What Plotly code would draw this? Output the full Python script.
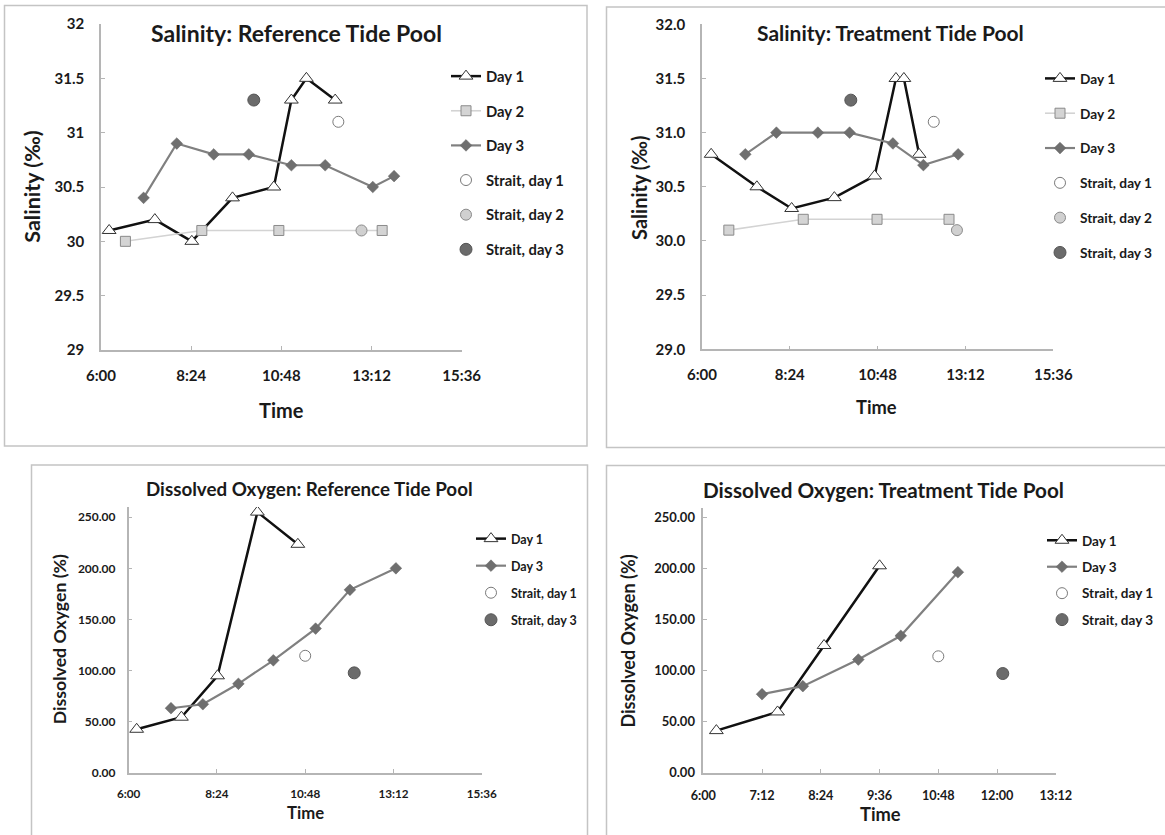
import plotly.graph_objects as go

W, H = 1165, 835

# ---------------- data ----------------
# Salinity, reference tide pool (time of day, salinity in per mille)
sal_ref_day1_t = ["6:13", "7:26", "8:25", "9:30", "10:36", "11:04", "11:28", "12:14"]
sal_ref_day1_v = [30.1, 30.2, 30.0, 30.4, 30.5, 31.3, 31.5, 31.3]
sal_ref_day2_t = ["6:39", "8:41", "10:44", "13:29"]
sal_ref_day2_v = [30.0, 30.1, 30.1, 30.1]
sal_ref_day3_t = ["7:08", "8:01", "9:00", "9:56", "11:04", "11:58", "13:14", "13:48"]
sal_ref_day3_v = [30.4, 30.9, 30.8, 30.8, 30.7, 30.7, 30.5, 30.6]
sal_ref_strait1 = ("12:19", 31.1)
sal_ref_strait2 = ("12:56", 30.1)
sal_ref_strait3 = ("10:04", 31.3)

# Salinity, treatment tide pool
sal_trt_day1_t = ["6:15", "7:30", "8:27", "9:37", "10:43", "11:18", "11:31", "11:56"]
sal_trt_day1_v = [30.8, 30.5, 30.3, 30.4, 30.6, 31.5, 31.5, 30.8]
sal_trt_day2_t = ["6:44", "8:46", "10:47", "12:45"]
sal_trt_day2_v = [30.1, 30.2, 30.2, 30.2]
sal_trt_day3_t = ["7:11", "8:02", "9:10", "10:02", "11:13", "12:03", "13:00"]
sal_trt_day3_v = [30.8, 31.0, 31.0, 31.0, 30.9, 30.7, 30.8]
sal_trt_strait1 = ("12:20", 31.1)
sal_trt_strait2 = ("12:58", 30.1)
sal_trt_strait3 = ("10:04", 31.3)

# Dissolved oxygen, reference tide pool (% saturation)
do_ref_day1_t = ["6:13", "7:26", "8:25", "9:30", "10:36"]
do_ref_day1_v = [42.5, 54.3, 94.8, 255.0, 223.5]
do_ref_day3_t = ["7:09", "8:01", "8:59", "9:56", "11:05", "12:01", "13:16"]
do_ref_day3_v = [63.1, 67.0, 87.0, 110.0, 141.0, 179.0, 200.0]
do_ref_strait1 = ("10:48", 114.4)
do_ref_strait3 = ("12:08", 97.7)

# Dissolved oxygen, treatment tide pool
do_trt_day1_t = ["6:16", "7:31", "8:28", "9:36"]
do_trt_day1_v = [41.3, 59.6, 124.8, 203.0]
do_trt_day3_t = ["7:12", "8:02", "9:10", "10:02", "11:12"]
do_trt_day3_v = [77.0, 84.9, 111.0, 134.3, 196.7]
do_trt_strait1 = ("10:48", 114.2)
do_trt_strait3 = ("12:07", 97.3)

# axis ticks
time_ticks_wide = ["6:00", "8:24", "10:48", "13:12", "15:36"]
time_ticks_narrow = ["6:00", "7:12", "8:24", "9:36", "10:48", "12:00", "13:12"]
sal_ref_yticks = ["29", "29.5", "30", "30.5", "31", "31.5", "32"]
sal_trt_yticks = ["29.0", "29.5", "30.0", "30.5", "31.0", "31.5", "32.0"]
do_yticks = ["0.00", "50.00", "100.00", "150.00", "200.00", "250.00"]


def hours(s):
    h, m = s.split(":")
    return int(h) + int(m) / 60.0


def hrs(lst):
    return [hours(s) for s in lst]


def px(x):
    return x / W


def py(y):
    return 1 - y / H


FONT = "Lato"
INK = "#1a1a1a"
AX = "#b5b5b5"

# series styles
ST_DAY1 = dict(mode="lines+markers", line=dict(color="#111111", width=2.5),
               marker=dict(symbol="triangle-up", size=12, color="white",
                           line=dict(color="#333333", width=1)))
ST_DAY2 = dict(mode="lines+markers", line=dict(color="#d3d3d3", width=1.6),
               marker=dict(symbol="square", size=10, color="#d4d4d4",
                           line=dict(color="#8a8a8a", width=1)))
ST_DAY3 = dict(mode="lines+markers", line=dict(color="#808080", width=2.2),
               marker=dict(symbol="diamond", size=9, color="#6f6f6f",
                           line=dict(color="#666666", width=0.5)))
ST_S1 = dict(mode="markers", marker=dict(symbol="circle", size=11, color="white",
                                        line=dict(color="#7a7a7a", width=1)))
ST_S2 = dict(mode="markers", marker=dict(symbol="circle", size=11, color="#d0d0d0",
                                        line=dict(color="#8a8a8a", width=1)))
ST_S3 = dict(mode="markers", marker=dict(symbol="circle", size=12, color="#6b6b6b",
                                        line=dict(color="#555555", width=1)))

fig = go.Figure()


def add(panel, name, t, v, style):
    ax = "" if panel == 1 else str(panel)
    leg = "legend" if panel == 1 else "legend" + str(panel)
    fig.add_trace(go.Scatter(x=hrs(t), y=v, name=name, xaxis="x" + ax, yaxis="y" + ax,
                             legend=leg, legendgroup=f"p{panel}-{name}",
                             hoverinfo="skip", **style))


# panel 1
add(1, "Day 1", sal_ref_day1_t, sal_ref_day1_v, ST_DAY1)
add(1, "Day 2", sal_ref_day2_t, sal_ref_day2_v, ST_DAY2)
add(1, "Day 3", sal_ref_day3_t, sal_ref_day3_v, ST_DAY3)
add(1, "Strait, day 1", [sal_ref_strait1[0]], [sal_ref_strait1[1]], ST_S1)
add(1, "Strait, day 2", [sal_ref_strait2[0]], [sal_ref_strait2[1]], ST_S2)
add(1, "Strait, day 3", [sal_ref_strait3[0]], [sal_ref_strait3[1]], ST_S3)
# panel 2
add(2, "Day 1", sal_trt_day1_t, sal_trt_day1_v, ST_DAY1)
add(2, "Day 2", sal_trt_day2_t, sal_trt_day2_v, ST_DAY2)
add(2, "Day 3", sal_trt_day3_t, sal_trt_day3_v, ST_DAY3)
add(2, "Strait, day 1", [sal_trt_strait1[0]], [sal_trt_strait1[1]], ST_S1)
add(2, "Strait, day 2", [sal_trt_strait2[0]], [sal_trt_strait2[1]], ST_S2)
add(2, "Strait, day 3", [sal_trt_strait3[0]], [sal_trt_strait3[1]], ST_S3)
# panel 3
add(3, "Day 1", do_ref_day1_t, do_ref_day1_v, ST_DAY1)
add(3, "Day 3", do_ref_day3_t, do_ref_day3_v, ST_DAY3)
add(3, "Strait, day 1", [do_ref_strait1[0]], [do_ref_strait1[1]], ST_S1)
add(3, "Strait, day 3", [do_ref_strait3[0]], [do_ref_strait3[1]], ST_S3)
# panel 4
add(4, "Day 1", do_trt_day1_t, do_trt_day1_v, ST_DAY1)
add(4, "Day 3", do_trt_day3_t, do_trt_day3_v, ST_DAY3)
add(4, "Strait, day 1", [do_trt_strait1[0]], [do_trt_strait1[1]], ST_S1)
add(4, "Strait, day 3", [do_trt_strait3[0]], [do_trt_strait3[1]], ST_S3)


def xaxis(x0, x1, anchor, ticks, fs, standoff):
    return dict(domain=[px(x0), px(x1)], range=[hours(ticks[0]), hours(ticks[-1])],
                tickvals=hrs(ticks), ticktext=ticks, showline=True, linecolor=AX,
                linewidth=1.5, ticks="inside", ticklen=4, tickcolor=AX, tickwidth=1,
                showgrid=False, zeroline=False, ticklabelstandoff=standoff,
                automargin=False, anchor=anchor, fixedrange=True,
                tickfont=dict(family=FONT, size=fs, color=INK, weight="bold"))


def yaxis(y0, y1, anchor, rng, vals, text, fs, standoff):
    return dict(domain=[py(y1), py(y0)], range=rng, tickvals=vals, ticktext=text,
                showline=True, linecolor=AX, linewidth=1.5, ticks="inside", ticklen=4,
                tickcolor=AX, tickwidth=1, showgrid=False, zeroline=False,
                ticklabelstandoff=standoff, automargin=False, anchor=anchor,
                fixedrange=True,
                tickfont=dict(family=FONT, size=fs, color=INK, weight="bold"))


sal_vals = [float(s) for s in sal_ref_yticks]
do_vals = [float(s) for s in do_yticks]

fig.update_layout(
    width=W, height=H, margin=dict(l=0, r=0, t=0, b=0, autoexpand=False),
    paper_bgcolor="white", plot_bgcolor="white", showlegend=True,
    font=dict(family=FONT, color=INK),
    xaxis=xaxis(101, 461.7, "y", time_ticks_wide, 15, 11),
    yaxis=yaxis(24, 350, "x", [29, 32], sal_vals, sal_ref_yticks, 15, 12),
    xaxis2=xaxis(702, 1053.3, "y2", time_ticks_wide, 15, 11),
    yaxis2=yaxis(24.3, 349.3, "x2", [29, 32], sal_vals, sal_trt_yticks, 15, 12),
    xaxis3=xaxis(128.7, 481.7, "y3", time_ticks_wide, 11.7, 10),
    yaxis3=yaxis(507, 772.7, "x3", [0, 260], do_vals, do_yticks, 12, 9),
    xaxis4=xaxis(703.3, 1055.8, "y4", time_ticks_narrow, 12.7, 10),
    yaxis4=yaxis(507.7, 772.7, "x4", [0, 260], do_vals, do_yticks, 13, 4),
)


def legend(x, y, fs, gap):
    return dict(x=px(x), y=py(y), xanchor="left", yanchor="top", bgcolor="rgba(0,0,0,0)",
                font=dict(family=FONT, size=fs, color=INK, weight="bold"),
                traceorder="grouped", tracegroupgap=gap, itemclick=False,
                itemdoubleclick=False)


fig.update_layout(legend=legend(446, 60, 14.8, 12.4),
                  legend2=legend(1040, 63, 13.7, 14.0),
                  legend3=legend(471, 524, 12.5, 7.8),
                  legend4=legend(1042, 525, 13.5, 5.9))

# chart and axis titles
ann = []


def text(x, y, s, fs, angle=0):
    ann.append(dict(x=px(x), y=py(y), xref="paper", yref="paper", text=s, showarrow=False,
                    xanchor="center", yanchor="middle", textangle=angle,
                    font=dict(family=FONT, size=fs, color=INK, weight="bold")))


text(296, 33, "Salinity: Reference Tide Pool", 23)
text(890.7, 32, "Salinity: Treatment Tide Pool", 21)
text(309.8, 488.5, "Dissolved Oxygen: Reference Tide Pool", 18.8)
text(883, 490, "Dissolved Oxygen: Treatment Tide Pool", 20.7)

text(32, 186.7, "Salinity (‰)", 21.5, -90)
text(639.6, 188.3, "Salinity (‰)", 20, -90)
text(59.6, 639.7, "Dissolved Oxygen (%)", 17.7, -90)
text(627.8, 640.8, "Dissolved Oxygen (%)", 18, -90)

text(281, 410, "Time", 20)
text(876.8, 406.7, "Time", 18.3)
text(305, 813.3, "Time", 16.7)
text(880.8, 814.3, "Time", 18.3)

# chart-area frames
BOX = "#c4c4c4"
frames = [(4.5, 5.5, 587, 446), (606.5, 7, 1170, 447.5),
          (31.5, 465, 587.5, 840), (606.5, 465.5, 1170, 840)]
shapes = [dict(type="rect", xref="paper", yref="paper",
               x0=px(a), y0=py(d), x1=px(c), y1=py(b),
               line=dict(color=BOX, width=1.5), layer="below")
          for a, b, c, d in frames]

fig.update_layout(annotations=ann, shapes=shapes)
fig.write_html("out.html")
